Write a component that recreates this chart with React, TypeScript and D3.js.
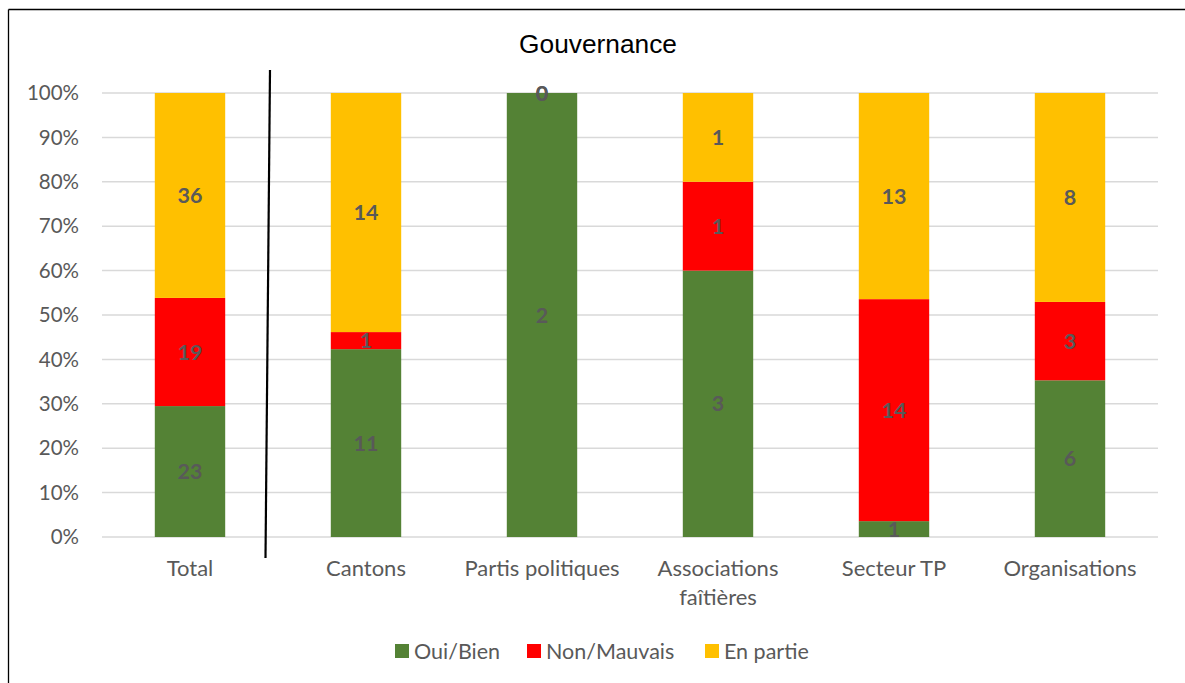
import React from "react";
import * as d3 from "d3";

const categories = ["Total", "Cantons", "Partis politiques", "Associations faîtières", "Secteur TP", "Organisations"];
const categoryLines = [["Total"], ["Cantons"], ["Partis politiques"], ["Associations", "faîtières"], ["Secteur TP"], ["Organisations"]];
const seriesNames = ["Oui/Bien", "Non/Mauvais", "En partie"];
const ouiBien = [23, 11, 2, 3, 1, 6];
const nonMauvais = [19, 1, 0, 1, 14, 3];
const enPartie = [36, 14, 0, 1, 13, 8];
const seriesColors = ["#548235", "#FF0000", "#FFC000"];
const yTicks = [0, 0.1, 0.2, 0.3, 0.4, 0.5, 0.6, 0.7, 0.8, 0.9, 1];
const title = "Gouvernance";

const W = 1185;
const H = 683;
const left = 102;
const right = 1158;
const top = 93;
const bottom = 537;
const FONT = "Lato, 'Open Sans', sans-serif";

export default function App() {
  const x = d3.scaleBand<string>().domain(categories).range([left, right]).paddingInner(0.6).paddingOuter(0.3);
  const y = d3.scaleLinear().domain([0, 1]).range([bottom, top]);
  const seriesValues = [ouiBien, nonMauvais, enPartie];
  const rows = categories.map((c, i) => {
    const r: any = { cat: c };
    seriesNames.forEach((s, k) => (r[s] = seriesValues[k][i]));
    return r;
  });
  const stacked = d3.stack<any>().keys(seriesNames).offset(d3.stackOffsetExpand)(rows);
  const bw = x.bandwidth();

  return (
    <svg width={W} height={H} style={{ position: "absolute", left: 0, top: 0, background: "#fff" }}>
      <rect x={0} y={0} width={W} height={H} fill="#fff" />
      <line x1={8.5} y1={9.5} x2={W} y2={9.5} stroke="#000" strokeWidth={1.3} />
      <line x1={8.5} y1={9.5} x2={8.5} y2={H} stroke="#000" strokeWidth={1.3} />
      <text x={598} y={53} textAnchor="middle" fontFamily="'Liberation Sans', Arial, sans-serif" fontSize={26.3} fill="#000">
        {title}
      </text>
      {yTicks.map((t) => (
        <g key={t}>
          <line x1={left} x2={right} y1={y(t)} y2={y(t)} stroke="#D9D9D9" strokeWidth={1.5} />
          <text x={79} y={y(t)} dy="0.35em" textAnchor="end" fontFamily={FONT} fontSize={20.5} fill="#595959">
            {d3.format(".0%")(t)}
          </text>
        </g>
      ))}
      {stacked.map((layer, k) => (
        <g key={layer.key}>
          {layer.map((d, i) => (
            <rect
              key={i}
              x={x(categories[i])}
              y={y(d[1])}
              width={bw}
              height={Math.max(0, y(d[0]) - y(d[1]))}
              fill={seriesColors[k]}
            />
          ))}
        </g>
      ))}
      {stacked.map((layer, k) => (
        <g key={"l" + layer.key}>
          {layer.map((d, i) => (
            <text
              key={i}
              x={(x(categories[i]) as number) + bw / 2}
              y={(y(d[0]) + y(d[1])) / 2}
              dy="0.35em"
              textAnchor="middle"
              fontFamily={FONT}
              fontWeight="bold"
              fontSize={21.5}
              fill="#595959"
            >
              {seriesValues[k][i]}
            </text>
          ))}
        </g>
      ))}
      <line x1={270} y1={70} x2={265.5} y2={558} stroke="#000" strokeWidth={2.2} />
      {categoryLines.map((lines, i) => (
        <text key={i} x={(x(categories[i]) as number) + bw / 2} y={576} textAnchor="middle" fontFamily={FONT} fontSize={22} fill="#595959">
          {lines.map((l, j) => (
            <tspan key={j} x={(x(categories[i]) as number) + bw / 2} dy={j === 0 ? 0 : 29}>
              {l}
            </tspan>
          ))}
        </text>
      ))}
      {[395, 527, 705].map((lx, k) => (
        <g key={k}>
          <rect x={lx} y={644} width={14} height={14} fill={seriesColors[k]} />
          <text x={lx + 19} y={651} dy="0.35em" fontFamily={FONT} fontSize={21.5} fill="#595959">
            {seriesNames[k]}
          </text>
        </g>
      ))}
    </svg>
  );
}
